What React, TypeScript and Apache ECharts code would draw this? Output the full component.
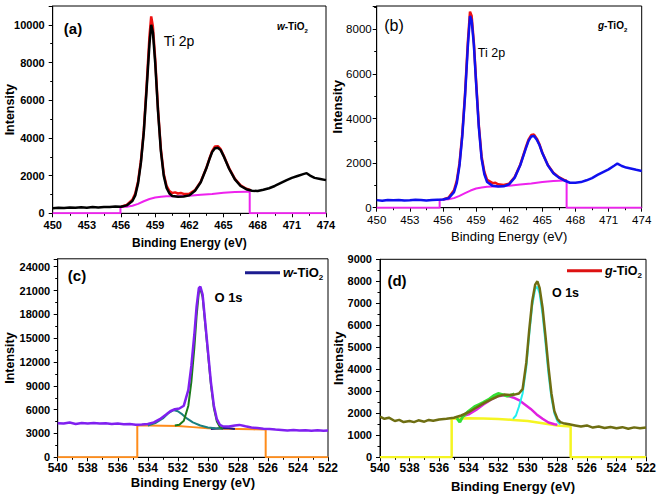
import React, { useEffect, useRef } from 'react';
import * as echarts from 'echarts';

const FONT = '"Liberation Sans", Arial, Helvetica, sans-serif';

// ---------- Panel (a): w-TiO2, Ti 2p ----------
const aTicksX = [450, 474, 3];
const aFit: number[][] = [
  [450, 270], [450.5, 300], [451, 280], [451.5, 310], [452, 290], [452.5, 320], [453, 300], [453.5, 330],
  [454, 310], [454.5, 340], [455, 330], [455.5, 360], [456, 350], [456.5, 420], [457, 650], [457.25, 950],
  [457.5, 1600], [457.75, 2700], [458, 4300], [458.25, 6600], [458.5, 9000], [458.65, 10000], [458.8, 9600],
  [459, 8000], [459.25, 5400], [459.5, 3300], [459.75, 2000], [460, 1350], [460.25, 1050], [460.5, 920],
  [461, 880], [461.5, 890], [462, 950], [462.5, 1200], [463, 1650], [463.5, 2400], [463.75, 2850],
  [464, 3250], [464.25, 3450], [464.5, 3480], [464.75, 3350], [465, 3050], [465.5, 2350], [466, 1800],
  [466.5, 1450], [467, 1280], [467.5, 1200], [468, 1180], [468.5, 1250], [469, 1330], [469.5, 1450],
  [470, 1600], [470.5, 1750], [471, 1880], [471.5, 1980], [472, 2080], [472.3, 2130], [472.6, 2000],
  [473, 1880], [473.5, 1820], [474, 1760],
];
const aRaw: number[][] = [
  [456, 350], [456.5, 450], [457, 720], [457.25, 1050], [457.5, 1700], [457.75, 2800], [458, 4400],
  [458.25, 6800], [458.5, 9400], [458.65, 10450], [458.8, 9900], [459, 8200], [459.25, 5500], [459.5, 3400],
  [459.75, 2100], [460, 1450], [460.25, 1180], [460.5, 1080], [460.75, 1110], [461, 1050], [461.25, 1080],
  [461.5, 1030], [462, 1040], [462.5, 1230], [463, 1680], [463.5, 2420], [463.75, 2880], [464, 3300],
  [464.25, 3550], [464.5, 3560], [464.75, 3400], [465, 3080], [465.5, 2380], [466, 1830], [466.5, 1480],
  [467, 1300], [467.4, 1230],
];
const aBg: number[][] = [
  [450, 0], [455.95, 0], [455.95, 340], [456.5, 350], [457, 400], [457.5, 500], [458, 640], [458.5, 760],
  [459, 840], [459.5, 880], [460, 900], [461, 910], [462, 930], [463, 980], [464, 1030], [465, 1090],
  [466, 1130], [467, 1150], [467.3, 1150], [467.3, 0], [474, 0],
];

// ---------- Panel (b): g-TiO2, Ti 2p ----------
const bFit: number[][] = [
  [450, 340], [450.5, 310], [451, 350], [451.5, 330], [452, 345], [452.5, 320], [453, 335], [453.5, 355],
  [454, 340], [454.5, 325], [455, 350], [455.5, 360], [456, 370], [456.5, 420], [457, 700], [457.25, 1100],
  [457.5, 1900], [457.75, 3200], [458, 5000], [458.25, 7200], [458.45, 8600], [458.6, 8400], [458.8, 7300],
  [459, 5600], [459.25, 3600], [459.5, 2200], [459.75, 1500], [460, 1150], [460.5, 980], [461, 950],
  [461.5, 960], [462, 1050], [462.5, 1350], [463, 1900], [463.5, 2650], [463.75, 3000], [464, 3200],
  [464.25, 3220], [464.5, 3050], [464.75, 2800], [465, 2450], [465.5, 1900], [466, 1550], [466.5, 1350],
  [467, 1220], [467.5, 1120], [468, 1120], [468.5, 1150], [469, 1230], [469.5, 1330], [470, 1470],
  [470.5, 1600], [471, 1720], [471.5, 1880], [471.8, 1980], [472.2, 1870], [472.6, 1800], [473, 1760],
  [473.5, 1700], [474, 1650],
];
const bRaw: number[][] = [
  [456, 370], [456.5, 450], [457, 780], [457.25, 1200], [457.5, 2000], [457.75, 3300], [458, 5100],
  [458.25, 7400], [458.45, 8800], [458.6, 8600], [458.8, 7400], [459, 5700], [459.25, 3700], [459.5, 2300],
  [459.75, 1600], [460, 1250], [460.5, 1100], [460.75, 1120], [461, 1050], [461.5, 1020], [462, 1080],
  [462.5, 1380], [463, 1930], [463.5, 2700], [463.75, 3050], [464, 3260], [464.25, 3280], [464.5, 3100],
  [464.75, 2830], [465, 2470], [465.5, 1920], [466, 1570], [466.5, 1370], [467, 1240], [467.2, 1200],
];
const bBg: number[][] = [
  [450, 0], [455.7, 0], [455.7, 360], [456.5, 380], [457, 430], [457.5, 530], [458, 650], [458.5, 770],
  [459, 860], [459.5, 910], [460, 940], [461, 960], [462, 990], [463, 1040], [464, 1090], [465, 1150],
  [466, 1200], [467, 1220], [467.2, 1220], [467.2, 0], [474, 0],
];

// ---------- Panel (c): w-TiO2, O 1s ----------
const cData: number[][] = [
  [540, 4300], [539.6, 4250], [539.2, 4380], [538.8, 4200], [538.4, 4320], [538, 4260], [537.6, 4330],
  [537.2, 4250], [536.8, 4300], [536.4, 4200], [536, 4260], [535.6, 4150], [535.2, 4180], [534.8, 4100],
  [534.4, 4120], [534, 4200], [533.6, 4400], [533.2, 4800], [532.8, 5350], [532.5, 5800], [532.2, 6050],
  [531.9, 6150], [531.6, 6500], [531.3, 8500], [531.1, 11500], [530.9, 15500], [530.75, 19000],
  [530.6, 21300], [530.5, 21500], [530.35, 20500], [530.2, 17500], [530, 13500], [529.8, 9500],
  [529.6, 6500], [529.4, 4800], [529.2, 4100], [529, 3900], [528.6, 3880], [528.2, 4000], [527.9, 4080],
  [527.5, 3900], [527.1, 3750], [526.7, 3680], [526.3, 3600], [525.9, 3560], [525.5, 3500], [525.1, 3450],
  [524.7, 3380], [524.3, 3450], [523.9, 3390], [523.5, 3420], [523.1, 3350], [522.7, 3400], [522.3, 3340],
  [522, 3380],
];
const cPeakMain: number[][] = [
  [532.2, 4000], [531.9, 4100], [531.6, 4600], [531.3, 6500], [531.1, 9500], [530.9, 13800],
  [530.75, 17800], [530.6, 20800], [530.5, 21200], [530.35, 20200], [530.2, 17200], [530, 13200],
  [529.8, 9200], [529.6, 6200], [529.4, 4500], [529.2, 3800], [529, 3600],
];
const cPeakShoulder: number[][] = [
  [534, 4000], [533.5, 4300], [533, 4900], [532.6, 5600], [532.3, 5950], [532, 5800], [531.7, 5400],
  [531.4, 4900], [531, 4400], [530.5, 4000], [530, 3750], [529.5, 3650], [529, 3600],
];
const cPeakSmall: number[][] = [
  [529.8, 3560], [529.4, 3620], [529, 3700], [528.6, 3650], [528.2, 3560],
];
const cBg: number[][] = [
  [540, 0], [534.7, 0], [534.7, 4000], [534, 4000], [533, 3980], [532, 3950], [531, 3800], [530, 3650],
  [529, 3580], [528, 3550], [527, 3520], [526.15, 3500], [526.15, 0], [522, 0],
];

// ---------- Panel (d): g-TiO2, O 1s ----------
const dData: number[][] = [
  [540, 1850], [539.7, 1750], [539.4, 1800], [539, 1650], [538.7, 1700], [538.4, 1600], [538, 1650],
  [537.7, 1600], [537.4, 1680], [537, 1620], [536.7, 1700], [536.4, 1660], [536, 1720], [535.5, 1750],
  [535, 1800], [534.5, 1900], [534, 2050], [533.5, 2250], [533, 2450], [532.5, 2620], [532, 2780],
  [531.6, 2850], [531.2, 2830], [530.9, 2850], [530.6, 2900], [530.35, 3100], [530.1, 4300], [529.9, 5800],
  [529.7, 7100], [529.5, 7850], [529.35, 8000], [529.2, 7700], [529, 6800], [528.8, 5500], [528.6, 4100],
  [528.4, 2900], [528.2, 2100], [528, 1750], [527.8, 1600], [527.6, 1550], [527.2, 1500], [526.8, 1450],
  [526.4, 1400], [526, 1450], [525.6, 1350], [525.2, 1400], [524.8, 1330], [524.4, 1380], [524, 1320],
  [523.6, 1370], [523.2, 1300], [522.8, 1360], [522.4, 1320], [522, 1350],
];
const dRaw: number[][] = [
  [534.8, 1780], [534.6, 1600], [534.4, 1850], [534, 2100], [533.6, 2300], [533.3, 2400], [533, 2500],
  [532.6, 2650], [532.3, 2800], [532, 2900], [531.7, 2850], [531.4, 2780], [531.1, 2830], [530.9, 2880],
];
const dPeakMain: number[][] = [
  [531, 1750], [530.8, 1900], [530.6, 2300], [530.35, 2900], [530.1, 4100], [529.9, 5600], [529.7, 6900],
  [529.5, 7650], [529.35, 7750], [529.2, 7450], [529, 6500], [528.8, 5200], [528.6, 3800], [528.4, 2700],
  [528.2, 2000], [528, 1650], [527.8, 1500],
];
const dPeakShoulder: number[][] = [
  [534.5, 1850], [534, 1950], [533.5, 2150], [533, 2400], [532.5, 2620], [532, 2780], [531.6, 2820],
  [531.2, 2760], [531, 2720], [530.6, 2600], [530.2, 2400], [529.8, 2200], [529.4, 1950], [529, 1750],
  [528.6, 1580], [528.2, 1500], [528, 1480],
];
const dBg: number[][] = [
  [540, 0], [535.15, 0], [535.15, 1750], [534, 1780], [533, 1760], [532, 1740], [531, 1700], [530, 1650],
  [529, 1550], [528, 1450], [527.1, 1400], [527.1, 0], [522, 0],
];

type AxisOpt = {
  grid: number; min: number; max: number; interval: number; inverse?: boolean;
  fs: number; bold: boolean; margin: number; name: string; nameGap: number; nameSize: number;
  nameBold: boolean; showMax?: boolean;
};

function makeAxis(o: AxisOpt, isY: boolean) {
  return {
    type: 'value',
    gridIndex: o.grid,
    min: o.min,
    max: o.max,
    interval: o.interval,
    inverse: !!o.inverse,
    name: o.name,
    nameLocation: 'middle',
    nameGap: o.nameGap,
    nameMoveOverlap: false,
    nameRotate: isY ? 90 : 0,
    nameTextStyle: {
      fontFamily: FONT, fontSize: o.nameSize, fontWeight: o.nameBold ? 'bold' : 'normal', color: '#000',
    },
    axisLine: { show: true, onZero: false, lineStyle: { color: '#000', width: 1 } },
    axisTick: { show: true, length: 4, lineStyle: { color: '#000', width: 1 } },
    minorTick: { show: true, splitNumber: 2, length: 2.5, lineStyle: { color: '#000', width: 1 } },
    splitLine: { show: false },
    minorSplitLine: { show: false },
    axisLabel: {
      fontFamily: FONT, fontSize: o.fs, fontWeight: o.bold ? 'bold' : 'normal', color: '#000',
      margin: o.margin, showMaxLabel: o.showMax !== false, showMinLabel: true, hideOverlap: false,
      formatter: (v: number) => String(v),
    },
  };
}

function line(data: number[][], color: string, width: number, idx: number) {
  return {
    type: 'line', data, xAxisIndex: idx, yAxisIndex: idx, showSymbol: false, symbol: 'none',
    lineStyle: { color, width }, itemStyle: { color }, silent: true, animation: false,
  };
}

function tio2Label(x: number, y: number, lead: string, fs: number) {
  return {
    type: 'text', x, y,
    style: {
      text: `{i|${lead}}{n|-TiO}{s|2}`,
      textVerticalAlign: 'middle', textAlign: 'left',
      rich: {
        i: { fontFamily: FONT, fontSize: fs, fontWeight: 'bold', fontStyle: 'italic', fill: '#000', lineHeight: fs + 5, verticalAlign: 'middle' },
        n: { fontFamily: FONT, fontSize: fs, fontWeight: 'bold', fill: '#000', lineHeight: fs + 5, verticalAlign: 'middle' },
        s: { fontFamily: FONT, fontSize: Math.round(fs * 0.6), fontWeight: 'bold', fill: '#000', verticalAlign: 'bottom' },
      },
    },
  };
}

function txt(x: number, y: number, text: string, fs: number, bold: boolean) {
  return {
    type: 'text', x, y,
    style: {
      text, fontFamily: FONT, fontSize: fs, fontWeight: bold ? 'bold' : 'normal', fill: '#000',
      textAlign: 'center', textVerticalAlign: 'middle',
    },
  };
}

const option: any = {
  animation: false,
  backgroundColor: '#fff',
  grid: [
    { left: 52.7, top: 6, width: 273.3, height: 207.3 },
    { left: 376.7, top: 6, width: 265, height: 201.7 },
    { left: 57.7, top: 258.8, width: 270.3, height: 198.5 },
    { left: 380, top: 259.3, width: 266, height: 198 },
  ].map((g) => ({ ...g, show: true, borderColor: '#000', borderWidth: 1, backgroundColor: 'transparent', containLabel: false, outerBoundsMode: 'none' })),
  xAxis: [
    makeAxis({ grid: 0, min: aTicksX[0], max: aTicksX[1], interval: aTicksX[2], fs: 11, bold: true, margin: 6, name: 'Binding Energy (eV)', nameGap: 24, nameSize: 12, nameBold: true }, false),
    makeAxis({ grid: 1, min: 450, max: 474, interval: 3, fs: 11.5, bold: false, margin: 6, name: 'Binding Energy (eV)', nameGap: 22, nameSize: 13, nameBold: false }, false),
    makeAxis({ grid: 2, min: 522, max: 540, interval: 2, inverse: true, fs: 12, bold: true, margin: 5, name: 'Binding Energy (eV)', nameGap: 19, nameSize: 13, nameBold: true }, false),
    makeAxis({ grid: 3, min: 522, max: 540, interval: 2, inverse: true, fs: 12, bold: true, margin: 5, name: 'Binding Energy (eV)', nameGap: 23, nameSize: 13, nameBold: true }, false),
  ],
  yAxis: [
    makeAxis({ grid: 0, min: 0, max: 11000, interval: 2000, fs: 11, bold: true, margin: 8, name: 'Intensity', nameGap: 36.5, nameSize: 12.5, nameBold: true, showMax: false }, true),
    makeAxis({ grid: 1, min: 0, max: 9050, interval: 2000, fs: 11.5, bold: false, margin: 5, name: 'Intensity', nameGap: 32.5, nameSize: 13, nameBold: true, showMax: false }, true),
    makeAxis({ grid: 2, min: 0, max: 25000, interval: 3000, fs: 11, bold: true, margin: 7.5, name: 'Intensity', nameGap: 41, nameSize: 12.5, nameBold: true, showMax: false }, true),
    makeAxis({ grid: 3, min: 0, max: 9000, interval: 1000, fs: 11, bold: true, margin: 8, name: 'Intensity', nameGap: 35.5, nameSize: 13, nameBold: true }, true),
  ],
  series: [
    line(aBg, '#ee22ee', 2, 0),
    line(aRaw, '#ee1111', 2.5, 0),
    line(aFit, '#000000', 2.5, 0),
    line(bBg, '#ee22ee', 2, 1),
    line(bRaw, '#ee1111', 2.5, 1),
    line(bFit, '#1010ee', 2.5, 1),
    line(cBg, '#ff8c1a', 2, 2),
    line(cPeakSmall, '#1c1c80', 2, 2),
    line(cPeakShoulder, '#1a8080', 2, 2),
    line(cPeakMain, '#1a7a1a', 2, 2),
    line(cData, '#8020f0', 2.5, 2),
    line(dBg, '#f5f522', 2.5, 3),
    line(dPeakShoulder, '#e020e0', 2.5, 3),
    line(dPeakMain, '#22eeee', 2, 3),
    line(dRaw, '#33e033', 3, 3),
    line(dData, '#6e6e12', 2.5, 3),
  ],
  graphic: [
    txt(73, 28, '(a)', 15, true),
    txt(179, 41, 'Ti 2p', 14, false),
    tio2Label(277, 26, 'w', 10),
    txt(394, 25, '(b)', 16, false),
    txt(491.5, 53, 'Ti 2p', 12.5, false),
    tio2Label(598, 25, 'g', 10),
    txt(77, 275, '(c)', 15, true),
    txt(228.5, 297, 'O 1s', 13, true),
    { type: 'line', shape: { x1: 245, y1: 272.7, x2: 280, y2: 272.7 }, style: { stroke: '#1c1c90', lineWidth: 3 } },
    tio2Label(283, 272.7, 'w', 13),
    txt(397, 280, '(d)', 15, true),
    txt(565.5, 293, 'O 1s', 12.5, true),
    { type: 'line', shape: { x1: 567, y1: 270.7, x2: 602, y2: 270.7 }, style: { stroke: '#dd1111', lineWidth: 3 } },
    tio2Label(605, 270.7, 'g', 12.5),
  ],
};

export default function App() {
  const ref = useRef<HTMLDivElement>(null);
  useEffect(() => {
    if (!ref.current) return;
    const chart = echarts.init(ref.current, null, { renderer: 'svg' });
    chart.setOption(option);
    return () => chart.dispose();
  }, []);
  return (
    <div
      ref={ref}
      style={{ position: 'fixed', left: 0, top: 0, width: 660, height: 496, background: '#fff' }}
    />
  );
}
